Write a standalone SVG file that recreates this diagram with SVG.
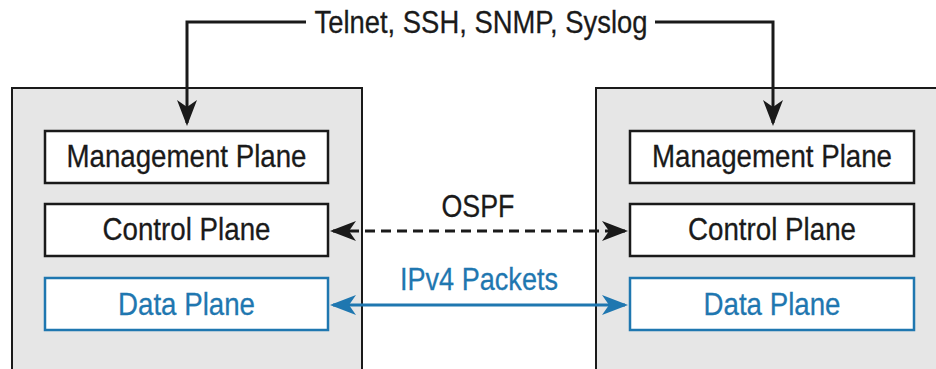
<svg xmlns="http://www.w3.org/2000/svg" width="936" height="369" viewBox="0 0 936 369">
<style>
.outer{fill:#e6e6e6;stroke:#1a1a1a;stroke-width:2}
.plane{fill:#fff;stroke:#1a1a1a;stroke-width:2.5}
.data{fill:#fff;stroke:#1f77b0;stroke-width:2.5}
text{font-family:"Liberation Sans",Arial,sans-serif;font-size:32px;fill:#1a1a1a;text-anchor:middle;stroke:#1a1a1a;stroke-width:0.3}
text.blue{fill:#1f77b0;stroke:#1f77b0}
.conn{fill:none;stroke:#1a1a1a;stroke-width:3}
.dash{stroke-dasharray:10 6}
.bl{stroke:#1f77b0}
</style>
<defs>
<marker id="ah" markerUnits="userSpaceOnUse" viewBox="0 0 26 20" refX="23" refY="10" markerWidth="26" markerHeight="20" orient="auto-start-reverse"><path d="M0,0 L26,10 L0,20 L7,10 z" fill="#1a1a1a"/></marker>
<marker id="ahb" markerUnits="userSpaceOnUse" viewBox="0 0 26 20" refX="23" refY="10" markerWidth="26" markerHeight="20" orient="auto-start-reverse"><path d="M0,0 L26,10 L0,20 L7,10 z" fill="#1f77b0"/></marker>
</defs>
<g id="routerA">
<rect class="outer" x="12" y="88" width="350" height="300"/>
<g id="mgmtA"><rect class="plane" x="45" y="131" width="283" height="52"/><text x="186.5" y="167" textLength="240" lengthAdjust="spacingAndGlyphs">Management Plane</text></g>
<g id="ctrlA"><rect class="plane" x="45" y="204" width="283" height="52"/><text x="186.5" y="240" textLength="168" lengthAdjust="spacingAndGlyphs">Control Plane</text></g>
<g id="dataA"><rect class="data" x="45" y="278" width="283" height="52"/><text class="blue" x="186.5" y="315" textLength="137" lengthAdjust="spacingAndGlyphs">Data Plane</text></g>
</g>
<g id="routerB">
<rect class="outer" x="596" y="88" width="350" height="300"/>
<g id="mgmtB"><rect class="plane" x="630" y="131" width="284" height="52"/><text x="772" y="167" textLength="240" lengthAdjust="spacingAndGlyphs">Management Plane</text></g>
<g id="ctrlB"><rect class="plane" x="630" y="204" width="284" height="52"/><text x="772" y="240" textLength="168" lengthAdjust="spacingAndGlyphs">Control Plane</text></g>
<g id="dataB"><rect class="data" x="630" y="278" width="284" height="52"/><text class="blue" x="772" y="315" textLength="137" lengthAdjust="spacingAndGlyphs">Data Plane</text></g>
</g>
<g id="connectors">
<path class="conn" d="M306,22 H187 V123" marker-end="url(#ah)"/>
<path class="conn" d="M655,22 H773 V123" marker-end="url(#ah)"/>
<text x="481" y="33" textLength="333" lengthAdjust="spacingAndGlyphs">Telnet, SSH, SNMP, Syslog</text>
<path class="conn dash" d="M333,231 H625" marker-start="url(#ah)" marker-end="url(#ah)"/>
<text x="478" y="217" textLength="73" lengthAdjust="spacingAndGlyphs">OSPF</text>
<path class="conn bl" d="M333,305 H625" marker-start="url(#ahb)" marker-end="url(#ahb)"/>
<text class="blue" x="479" y="290" textLength="158" lengthAdjust="spacingAndGlyphs">IPv4 Packets</text>
</g>
</svg>
